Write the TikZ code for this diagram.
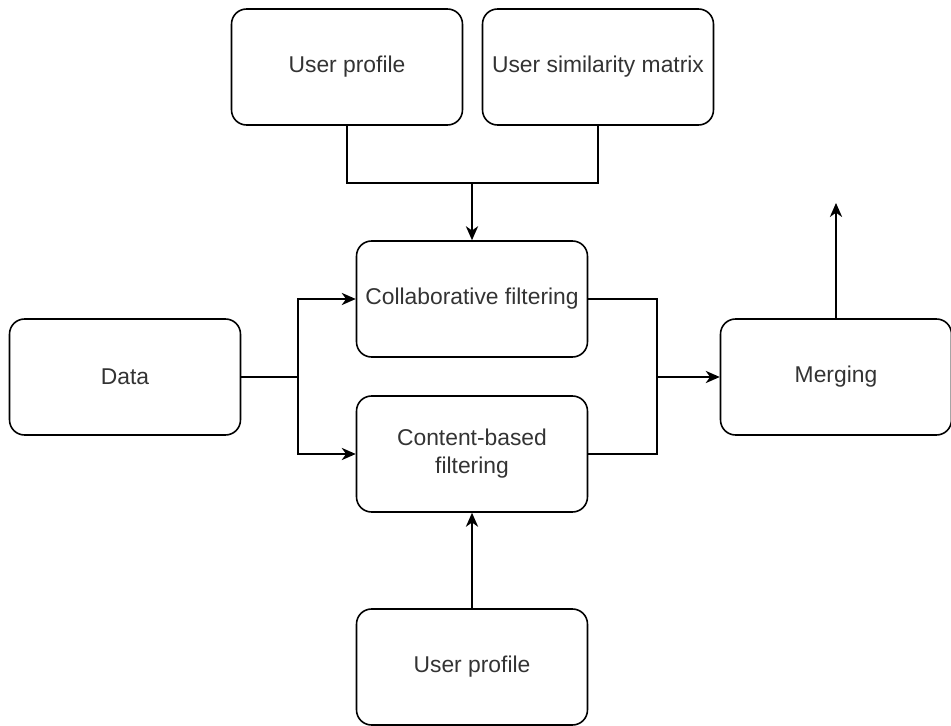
\documentclass[tikz,border=0pt]{standalone}
\usepackage{fontspec}
\setmainfont{Liberation Sans}
\usetikzlibrary{arrows.meta}
\begin{document}
\begin{tikzpicture}[x=0.02cm, y=-0.02cm,
        block/.style={draw, line width=0.9pt, rounded corners=0.3cm, minimum width=4.62cm, minimum height=2.32cm, inner sep=1pt, align=center, text=black!80, font=\fontsize{13}{16}\selectfont},
        line/.style={line width=0.9pt},
        flow/.style={line, -{Stealth[length=8pt, width=7pt, inset=2.5pt]}}]
        \useasboundingbox (0, 0) rectangle (951, 726);
        % boxes
        \node[block] (prof) at (347, 67) {User profile};
        \node[block] (sim) at (598, 67) {User similarity matrix};
        \node[block] (collab) at (472, 299) {Collaborative filtering};
        \node[block] (content) at (472, 454) {Content-based\\filtering};
        \node[block] (data) at (125, 377) {Data};
        \node[block] (merge) at (836, 377) {Merging};
        \node[block] (prof2) at (472, 667) {User profile};
        % joints
        \coordinate (tj) at (472, 183);
        \coordinate (dj) at (298, 377);
        \coordinate (mj) at (657, 377);
        \coordinate (out) at (836, 203);
        % connectors
        \draw[line] (prof.south) |- (tj) -| (sim.south);
        \draw[flow] (tj) -- (collab.north);
        \draw[line] (data.east) -- (dj);
        \draw[flow] (dj) |- (collab.west);
        \draw[flow] (dj) |- (content.west);
        \draw[line] (collab.east) -| (mj);
        \draw[line] (content.east) -| (mj);
        \draw[flow] (mj) -- (merge.west);
        \draw[flow] (merge.north) -- (out);
        \draw[flow] (prof2.north) -- (content.south);
\end{tikzpicture}
\end{document}
